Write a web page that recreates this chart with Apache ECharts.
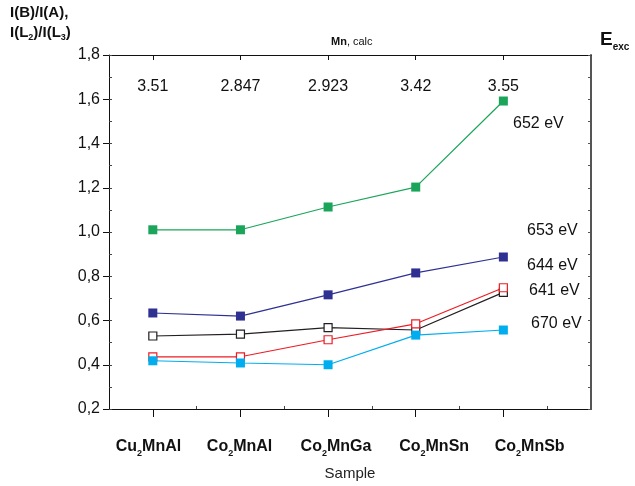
<!DOCTYPE html>
<html>
<head>
<meta charset="utf-8">
<script src="https://cdn.jsdelivr.net/npm/echarts@6/dist/echarts.min.js"></script>
<style>
html,body{margin:0;padding:0;background:#fff;}
#main{width:635px;height:486px;}
</style>
</head>
<body>
<div id="main"></div>
<script>
// samples (formula parts: prefix, subscript, rest)
var samples = [['Cu','2','MnAl'],['Co','2','MnAl'],['Co','2','MnGa'],['Co','2','MnSn'],['Co','2','MnSb']];
var mnCalc = ['3.51','2.847','2.923','3.42','3.55'];
var ratio652 = [1.01, 1.01, 1.113, 1.203, 1.592];
var ratioNavy = [0.634, 0.620, 0.716, 0.815, 0.887];
var ratioBlack = [0.530, 0.538, 0.568, 0.557, 0.727];
var ratioRed = [0.436, 0.436, 0.513, 0.585, 0.748];
var ratioCyan = [0.418, 0.408, 0.400, 0.534, 0.557];
var eLabels = ['652 eV','653 eV','644 eV','641 eV','670 eV'];

var chart = echarts.init(document.getElementById('main'));
var FONT = 'Liberation Sans, Arial, sans-serif';
var idx = [1,2,3,4,5];
// sample names sit a bit right of their ticks in the original
var labelPos = [0.95, 1.99, 3.09, 4.21, 5.30];

function pts(arr){ return arr.map(function(v,i){ return [idx[i], v]; }); }

function lineSeries(arr, color, open){
	return {
		type:'line',
		data: pts(arr),
		symbol:'rect',
		symbolSize: open ? 8 : 9,
		showSymbol:true,
		lineStyle:{color:color,width:1.2},
		itemStyle: open ? {color:'#fff',borderColor:color,borderWidth:1.2} : {color:color,borderWidth:0},
		emphasis:{disabled:true},
		animation:false
	};
}

var option = {
	animation:false,
	textStyle:{fontFamily:FONT},
	grid:{left:109,right:44,top:55,bottom:77},
	xAxis:[
		{
			type:'value', min:0.5, max:6, interval:0.5, position:'bottom',
			axisLine:{show:true,lineStyle:{color:'#111',width:1}},
			axisTick:{show:true,inside:false,length:8,customValues:idx,lineStyle:{color:'#111'}},
			splitLine:{show:false},
			axisLabel:{
				customValues:labelPos, margin:27, color:'#111',
				formatter:function(v){
					var s = samples[Math.round(v)-1];
					return s ? '{b|'+s[0]+'}{s|'+s[1]+'}{b|'+s[2]+'}' : '';
				},
				rich:{
					b:{fontSize:16,fontWeight:'bold',color:'#111',fontFamily:FONT},
					s:{fontSize:9,fontWeight:'bold',color:'#111',fontFamily:FONT,padding:[13,0,0,0]}
				}
			},
			name:'Sample', nameLocation:'middle', nameGap:57,
			nameTextStyle:{fontSize:15,color:'#222',fontFamily:FONT}
		},
		{
			type:'value', min:0.5, max:6, interval:0.5, position:'top',
			axisLine:{show:true,lineStyle:{color:'#111',width:1}},
			axisTick:{show:true,inside:true,length:5,customValues:idx,lineStyle:{color:'#111'}},
			axisLabel:{show:false},
			splitLine:{show:false}
		},
		{
			type:'value', min:0.5, max:6, interval:0.5, position:'bottom',
			axisLine:{show:false},
			axisTick:{show:true,inside:true,length:3,customValues:[1.5,2.5,3.5,4.5,5.5],lineStyle:{color:'#444'}},
			axisLabel:{show:false},
			splitLine:{show:false}
		}
	],
	yAxis:[
		{
			type:'value', min:0.2, max:1.8, interval:0.2, position:'left',
			axisLine:{show:true,lineStyle:{color:'#111',width:1}},
			axisTick:{show:true,inside:false,length:6,lineStyle:{color:'#111'}},
			splitLine:{show:false},
			axisLabel:{
				margin:9, color:'#111', fontSize:16, fontFamily:FONT,
				formatter:function(v){ return v.toFixed(1).replace('.',','); }
			}
		},
		{
			type:'value', min:0.2, max:1.8, interval:0.1, position:'right',
			axisLine:{show:true,lineStyle:{color:'#555',width:2}},
			axisTick:{show:true,inside:true,length:3,lineStyle:{color:'#555'}},
			axisLabel:{show:false},
			splitLine:{show:false}
		},
		{
			type:'value', min:0.2, max:1.8, interval:0.1, position:'left',
			axisLine:{show:false},
			axisTick:{show:true,inside:true,length:3,lineStyle:{color:'#444'}},
			axisLabel:{show:false},
			splitLine:{show:false}
		}
	],
	graphic:[
		{type:'text',left:10,top:5,style:{text:'I(B)/I(A),',font:'bold 15px '+FONT,fill:'#111'}},
		{type:'text',left:10,top:25,style:{
			text:'{b|I(L}{s|2}{b|)/I(L}{s|3}{b|)}',
			rich:{b:{font:'bold 15px '+FONT,fill:'#111'},s:{font:'bold 9px '+FONT,fill:'#111',padding:[11,0,0,0]}}
		}},
		{type:'text',left:331,top:36,style:{
			text:'{b|Mn}{n|, calc}',
			rich:{b:{font:'bold 11px '+FONT,fill:'#111'},n:{font:'11px '+FONT,fill:'#111'}}
		}},
		{type:'text',left:600,top:30,style:{
			text:'{b|E}{s|exc}',
			rich:{b:{font:'bold 19px '+FONT,fill:'#111'},s:{font:'bold 10px '+FONT,fill:'#111',padding:[15,0,0,0]}}
		}},
		{type:'text',left:513,top:116,style:{text:eLabels[0],font:'16px '+FONT,fill:'#111'}},
		{type:'text',left:527,top:223,style:{text:eLabels[1],font:'16px '+FONT,fill:'#111'}},
		{type:'text',left:527,top:258,style:{text:eLabels[2],font:'16px '+FONT,fill:'#111'}},
		{type:'text',left:529,top:283,style:{text:eLabels[3],font:'16px '+FONT,fill:'#111'}},
		{type:'text',left:531,top:316,style:{text:eLabels[4],font:'16px '+FONT,fill:'#111'}}
	],
	series:[
		lineSeries(ratio652,'#1aa55a',false),
		lineSeries(ratioNavy,'#2e3192',false),
		lineSeries(ratioBlack,'#231f20',true),
		lineSeries(ratioRed,'#ed1c24',true),
		lineSeries(ratioCyan,'#00aeef',false),
		{
			type:'scatter',
			data: mnCalc.map(function(t,i){ return [idx[i],1.655]; }),
			symbolSize:0,
			itemStyle:{opacity:1},
			label:{show:true,position:'inside',fontSize:16,color:'#111',opacity:1,fontFamily:FONT,
				formatter:function(p){ return mnCalc[p.dataIndex]; }},
			emphasis:{disabled:true},
			silent:true
		}
	]
};
chart.setOption(option);
</script>
</body>
</html>
